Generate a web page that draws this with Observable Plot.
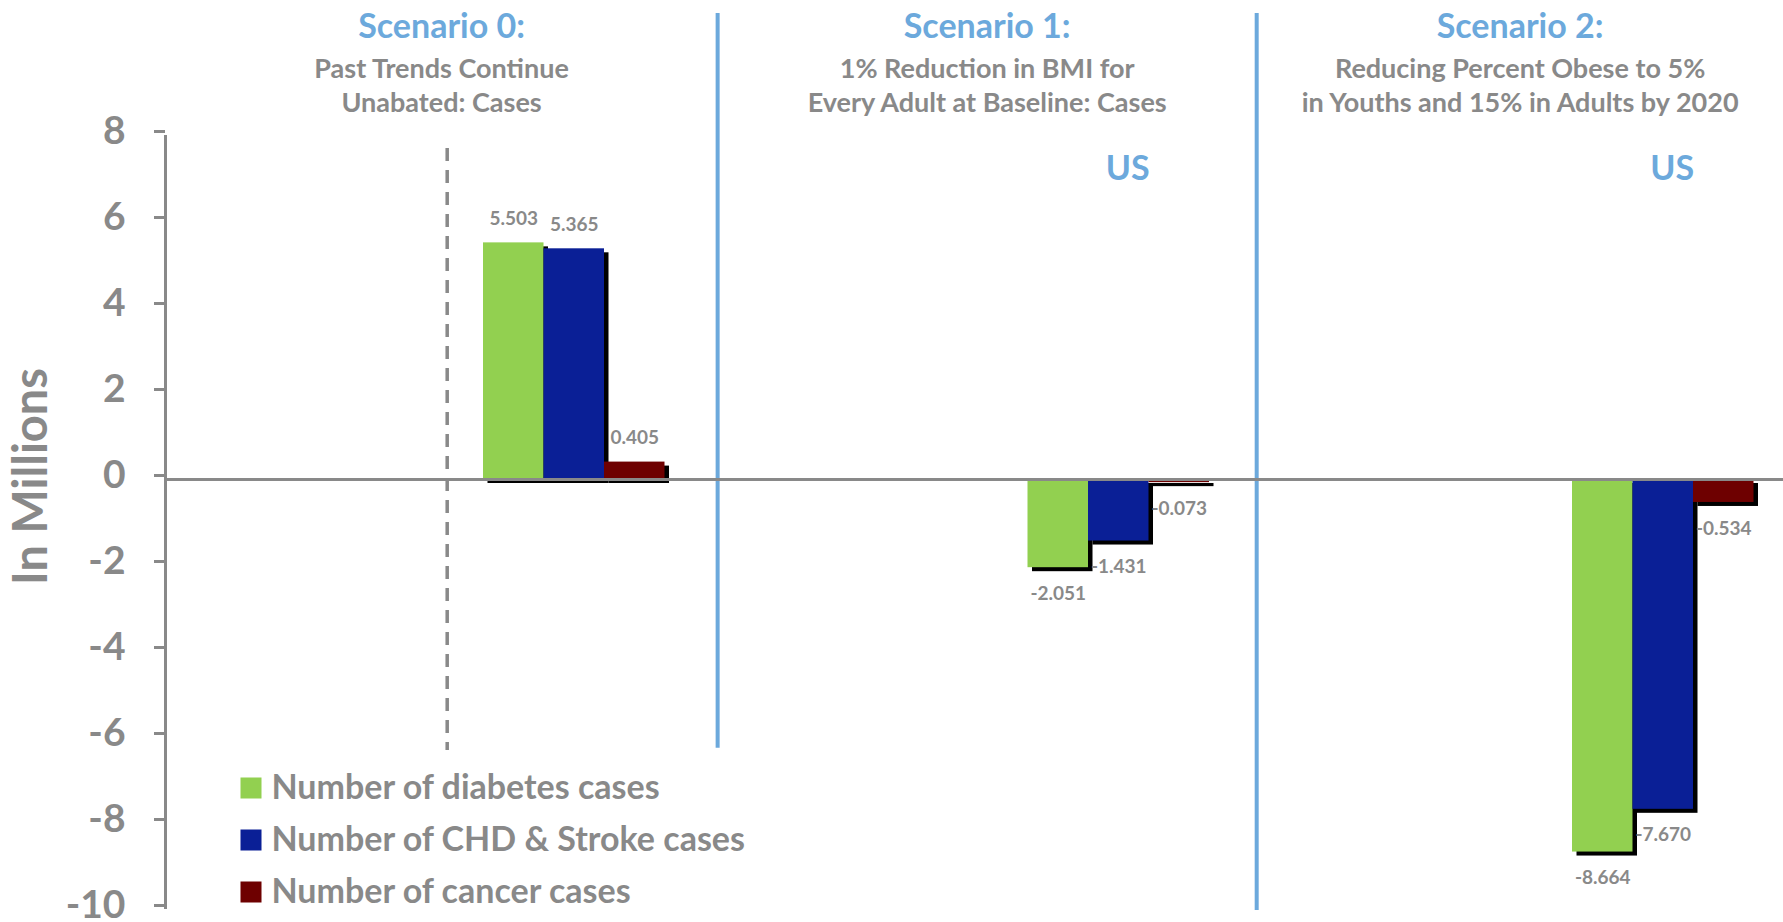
<!DOCTYPE html>
<html>
<head>
<meta charset="utf-8">
<script src="https://cdn.jsdelivr.net/npm/d3@7"></script>
<script src="https://cdn.jsdelivr.net/npm/@observablehq/plot@0.6"></script>
<style>
  html, body { margin: 0; padding: 0; background: #ffffff; }
  #chart svg { display: block; }
</style>
</head>
<body>
<div id="chart"></div>
<script>
// ---------------- data ----------------
const scenarios = ["Scenario 0:", "Scenario 1:", "Scenario 2:"];
const subtitles = [
  "Past Trends Continue\nUnabated: Cases",
  "1% Reduction in BMI for\nEvery Adult at Baseline: Cases",
  "Reducing Percent Obese to 5%\nin Youths and 15% in Adults by 2020"
];
const regionLabels = ["", "US", "US"];
const series = ["Number of diabetes cases", "Number of CHD & Stroke cases", "Number of cancer cases"];
const diabetes  = [5.503, -2.051, -8.664];
const chdStroke = [5.365, -1.431, -7.670];
const cancer    = [0.405, -0.073, -0.534];
const yTicks = [-10, -8, -6, -4, -2, 0, 2, 4, 6, 8];
const yLabel = "In Millions";

// ---------------- styles / layout ----------------
const seriesColors = ["#92d050", "#0a1f96", "#6e0000"];
const GRAY = "#898989";
const BLUE = "#6ca9dc";
const FONT = "Lato, 'Open Sans', sans-serif";
const W = 1783, H = 922;
const M_LEFT = 165, M_TOP = 13, M_BOTTOM = 12, M_RIGHT = 0;
const SLOT = 60.5, X0 = 301.5, GROUP = 9, OFFSET = 3;
const Y_TOP_PX = 135, Y_BOT_PX = 909, Y_MIN = -10, Y_MAX = 8;
const xOf = px => (px - X0) / SLOT;                                        // pixel -> slot units
const yOf = px => Y_MIN + (Y_BOT_PX - px) * (Y_MAX - Y_MIN) / (Y_BOT_PX - Y_TOP_PX); // pixel -> value
const xLeft = xOf(M_LEFT), xRight = xOf(W - M_RIGHT);
const dashedAt = 2.4;
const dividers = [6.87, 15.78];
const bounds = [xLeft, ...dividers, xRight];

const valuesBySeries = [diabetes, chdStroke, cancer];
const rows = [];
scenarios.forEach((sc, gi) => {
  series.forEach((s, si) => {
    const slot = gi * GROUP + OFFSET + si;
    rows.push({scenario: sc, series: s, value: valuesBySeries[si][gi], x1: slot, x2: slot + 1, xc: slot + 0.5});
  });
});
const titleRows = scenarios.map((sc, gi) => ({
  title: sc, sub: subtitles[gi], region: regionLabels[gi],
  cx: (bounds[gi] + bounds[gi + 1]) / 2,
  gc: gi * GROUP + OFFSET + series.length / 2
}));
const fmt = v => v.toFixed(3);

const legendMarks = series.flatMap((s, i) => [
  Plot.dot([s], {frameAnchor: "top-left", dx: 250.5 - M_LEFT, dy: 787.5 - M_TOP + 52 * i,
    symbol: "square", r: 11.85, fill: seriesColors[i], stroke: null}),
  Plot.text([s], {frameAnchor: "top-left", dx: 271 - M_LEFT, dy: 787.5 - M_TOP + 52 * i,
    text: d => d, textAnchor: "start", lineAnchor: "middle", fill: GRAY, fontSize: 34, fontWeight: "bold"})
]);

const chart = Plot.plot({
  width: W, height: H,
  marginLeft: M_LEFT, marginRight: M_RIGHT, marginTop: M_TOP, marginBottom: M_BOTTOM,
  style: {fontFamily: FONT, background: "#ffffff", overflow: "visible"},
  x: {domain: [0, GROUP * scenarios.length], range: [X0, X0 + SLOT * GROUP * scenarios.length], axis: null},
  y: {domain: [Y_MIN, Y_MAX], range: [Y_BOT_PX, Y_TOP_PX], axis: null},
  color: {domain: series, range: seriesColors},
  marks: [
    // separators
    Plot.ruleX([dividers[0]], {y1: yOf(M_TOP), y2: -6.25, stroke: BLUE, strokeWidth: 4}),
    Plot.ruleX([dividers[1]], {stroke: BLUE, strokeWidth: 4}),
    Plot.ruleX([dashedAt], {y1: 7.7, y2: -6.3, stroke: GRAY, strokeWidth: 3.5, strokeDasharray: "13 9"}),
    // shadows
    Plot.rectY(rows, {x1: "x1", x2: "x2", y: "value", fill: "#000000", dx: 4.5, dy: 4}),
    // bars
    Plot.rectY(rows, {x1: "x1", x2: "x2", y: "value", fill: "series"}),
    // zero line
    Plot.ruleY([0], {stroke: GRAY, strokeWidth: 3}),
    // y axis line + ticks + labels
    Plot.ruleX([xLeft], {y1: Y_MIN, y2: Y_MAX, stroke: GRAY, strokeWidth: 3}),
    Plot.axisY(yTicks, {label: null, tickSize: 11, tickPadding: 29, tickFormat: d => String(d), dy: -4,
      stroke: GRAY, strokeWidth: 3, fill: GRAY, fontSize: 39, fontWeight: "bold"}),
    Plot.text([yLabel], {frameAnchor: "left", y: 0, dx: 31 - M_LEFT, dy: -3, rotate: -90, text: d => d,
      textAnchor: "middle", lineAnchor: "middle", fill: GRAY, fontSize: 47, fontWeight: "bold"}),
    // value labels
    Plot.text(rows.filter(d => d.value >= 0), {x: "xc", y: "value", text: d => fmt(d.value), dy: -24,
      fill: GRAY, fontSize: 19, fontWeight: "bold"}),
    Plot.text(rows.filter(d => d.value < 0), {x: "xc", y: "value", text: d => fmt(d.value), dy: 26,
      fill: GRAY, fontSize: 19, fontWeight: "bold"}),
    // titles
    Plot.text(titleRows, {x: "cx", frameAnchor: "top", lineAnchor: "middle", text: "title", dy: 14,
      fill: BLUE, fontSize: 34, fontWeight: "bold"}),
    Plot.text(titleRows, {x: "cx", frameAnchor: "top", lineAnchor: "middle", text: "sub", dy: 70.5, lineHeight: 1.28,
      fill: GRAY, fontSize: 27, fontWeight: "bold"}),
    Plot.text(titleRows.filter(d => d.region), {x: "gc", frameAnchor: "top", lineAnchor: "middle", text: "region",
      dx: 9, dy: 156, fill: BLUE, fontSize: 34, fontWeight: "bold"}),
    ...legendMarks
  ]
});
document.getElementById("chart").appendChild(chart);
</script>
</body>
</html>
